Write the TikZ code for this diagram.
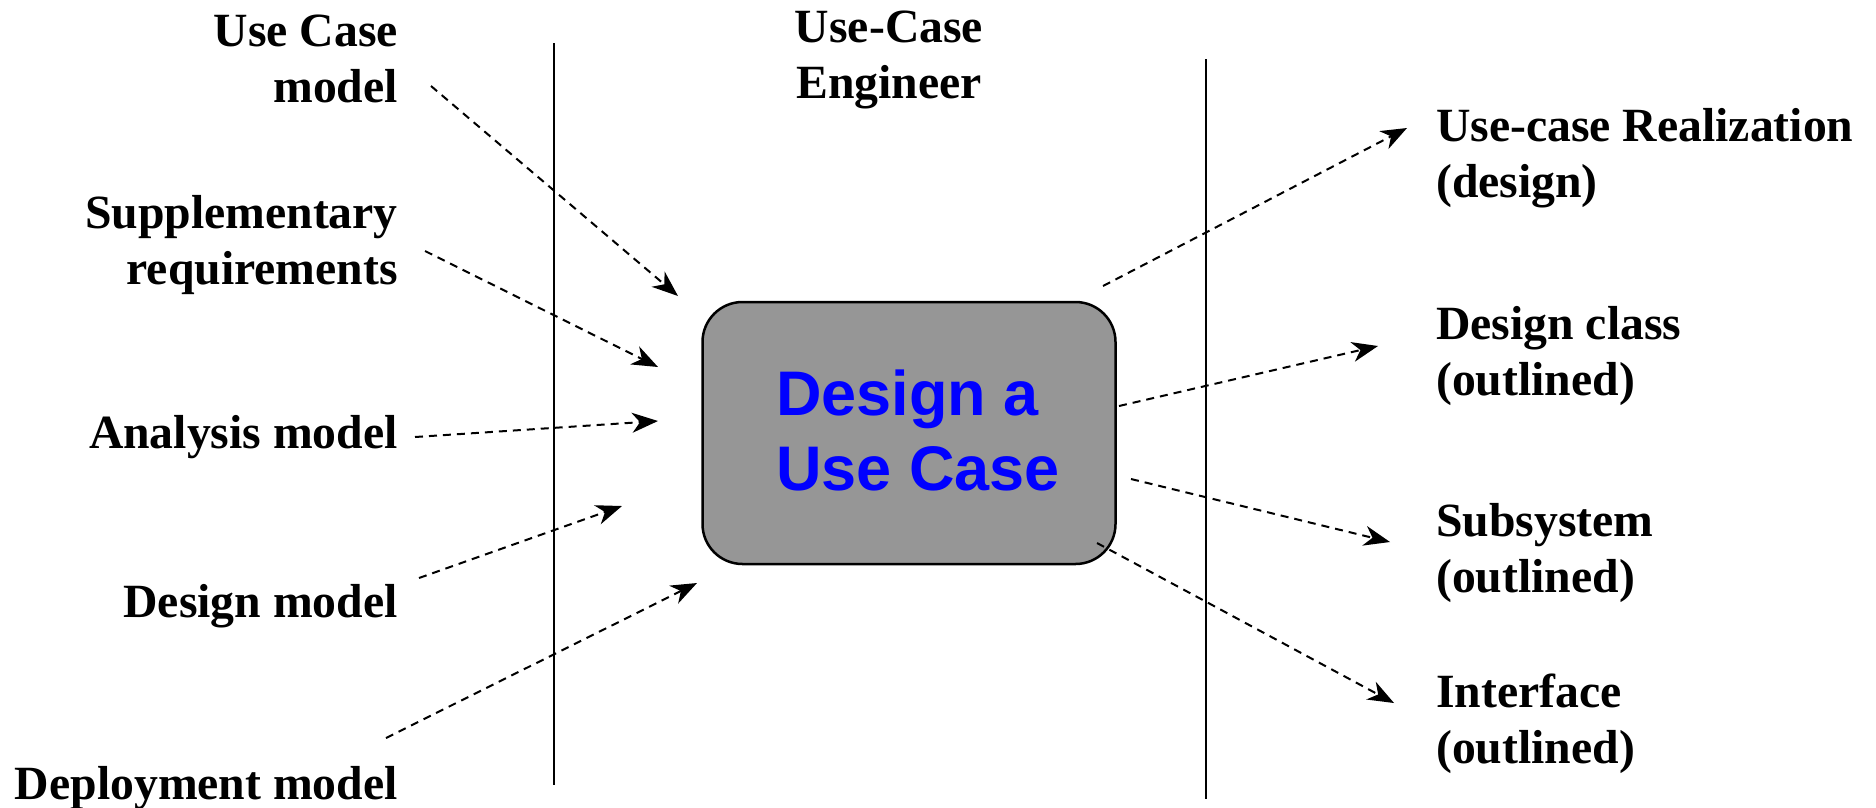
\documentclass[tikz,border=0pt]{standalone}
\usepackage{fontspec}
\setmainfont{Liberation Serif}
\newfontfamily\boxfont{Liberation Sans}
\usetikzlibrary{arrows.meta}
\definecolor{boxgray}{RGB}{150,150,150}
\definecolor{boxblue}{RGB}{0,0,255}
\tikzset{
  lbl/.style={inner sep=0pt, font=\fontsize{47.7}{56}\selectfont\bfseries},
  flow/.style={line width=2pt, dash pattern=on 8pt off 6pt,
    -{Stealth[length=26pt,width=20pt,inset=8pt]}},
  lane/.style={line width=2.5pt},
  taskbox/.style={draw, line width=2.5pt, fill=boxgray, rounded corners=40pt,
    minimum width=413pt, minimum height=262pt, inner sep=0pt,
    text=boxblue, font=\fontsize{63}{75}\selectfont\boxfont\bfseries}
}
\begin{document}
\begin{tikzpicture}[x=1pt,y=-1pt]
\useasboundingbox (0,0) rectangle (1876,807);
% swimlane lines
\coordinate (l1t) at (554,43);  \coordinate (l1b) at (554,785);
\coordinate (l2t) at (1206,59); \coordinate (l2b) at (1206,799);
\draw[lane] (l1t) -- (l1b);
\draw[lane] (l2t) -- (l2b);
% worker
\node[lbl, anchor=base] (worker) at (889,42)
  {\begin{tabular}[t]{@{}c@{}}Use-Case\\Engineer\end{tabular}};
% activity
\node[taskbox] (act) at (909,433)
  {\hspace*{18pt}\begin{tabular}{@{}l@{}}\rule{0pt}{62pt}Design a\\Use Case\end{tabular}};
% inputs
\node[lbl, anchor=base east] (ucm) at (398,46)
  {\begin{tabular}[t]{@{}r@{}}Use Case\\model\end{tabular}};
\node[lbl, anchor=base east] (sup) at (398,228)
  {\begin{tabular}[t]{@{}r@{}}Supplementary\\requirements\end{tabular}};
\node[lbl, anchor=base east] (anm) at (398,448) {Analysis model};
\node[lbl, anchor=base east] (dsm) at (398,617) {Design model};
\node[lbl, anchor=base east] (dpm) at (398,799) {Deployment model};
% outputs
\node[lbl, anchor=base west] (ucr) at (1436,141)
  {\begin{tabular}[t]{@{}l@{}}Use-case Realization\\(design)\end{tabular}};
\node[lbl, anchor=base west] (dcl) at (1436,339)
  {\begin{tabular}[t]{@{}l@{}}Design class\\(outlined)\end{tabular}};
\node[lbl, anchor=base west] (sub) at (1436,536)
  {\begin{tabular}[t]{@{}l@{}}Subsystem\\(outlined)\end{tabular}};
\node[lbl, anchor=base west] (itf) at (1436,707)
  {\begin{tabular}[t]{@{}l@{}}Interface\\(outlined)\end{tabular}};
% arrow end points
\coordinate (a1s) at (431,86);  \coordinate (a1e) at (678,296);
\coordinate (a2s) at (425,251); \coordinate (a2e) at (658,367);
\coordinate (a3s) at (415,437); \coordinate (a3e) at (658,421);
\coordinate (a4s) at (419,578); \coordinate (a4e) at (622,506);
\coordinate (a5s) at (386,738); \coordinate (a5e) at (697,583);
\coordinate (b1s) at (1103,286); \coordinate (b1e) at (1407,128);
\coordinate (b2s) at (1119,406); \coordinate (b2e) at (1378,346);
\coordinate (b3s) at (1131,479); \coordinate (b3e) at (1390,542);
\coordinate (b4s) at (1097,543); \coordinate (b4e) at (1394,703);
\draw[flow] (a1s) -- (a1e);
\draw[flow] (a2s) -- (a2e);
\draw[flow] (a3s) -- (a3e);
\draw[flow] (a4s) -- (a4e);
\draw[flow] (a5s) -- (a5e);
\draw[flow] (b1s) -- (b1e);
\draw[flow] (b2s) -- (b2e);
\draw[flow] (b3s) -- (b3e);
\draw[flow] (b4s) -- (b4e);
\end{tikzpicture}
\end{document}
